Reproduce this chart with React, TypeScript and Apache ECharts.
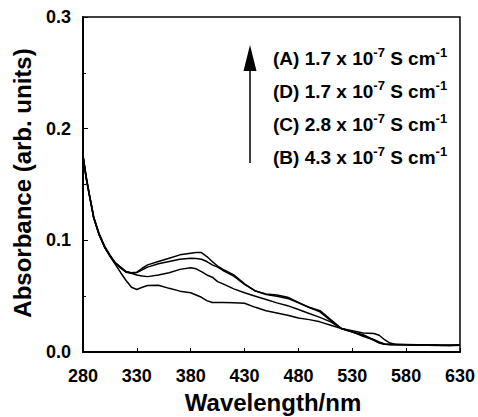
import React, { useEffect, useRef } from "react";
import * as echarts from "echarts";

const FONT = "'Liberation Sans', Arial, Helvetica, sans-serif";

const wavelengths = [
  280, 283, 286, 290, 295, 300, 305, 310, 315, 320, 325, 330, 335, 340, 350, 360, 370, 380, 385, 390, 395,
  400, 405, 410, 420, 430, 440, 450, 460, 470, 480, 490, 500, 510, 520, 530, 540, 550, 555, 560, 565, 570,
  580, 590, 600, 610, 620, 630,
];

const seriesA = [
  0.176, 0.157, 0.141, 0.121, 0.106, 0.095, 0.087, 0.08, 0.076, 0.072, 0.071, 0.0715, 0.075, 0.078, 0.081,
  0.084, 0.087, 0.0885, 0.089, 0.089, 0.0855, 0.081, 0.077, 0.074, 0.069, 0.061, 0.0545, 0.052, 0.051, 0.049,
  0.0445, 0.04, 0.037, 0.029, 0.021, 0.018, 0.0155, 0.011, 0.0085, 0.007, 0.0068, 0.0068, 0.0066, 0.0064,
  0.0062, 0.006, 0.006, 0.006,
];

const seriesD = [
  0.175, 0.156, 0.14, 0.12, 0.105, 0.094, 0.086, 0.0795, 0.0755, 0.0718, 0.0705, 0.0712, 0.0735, 0.076, 0.079,
  0.081, 0.083, 0.084, 0.0838, 0.083, 0.081, 0.078, 0.076, 0.073, 0.068, 0.0605, 0.0548, 0.0515, 0.05, 0.048,
  0.044, 0.0398, 0.036, 0.028, 0.0208, 0.0178, 0.015, 0.0105, 0.008, 0.0069, 0.0067, 0.0066, 0.0065, 0.0063,
  0.0061, 0.006, 0.0059, 0.006,
];

const seriesC = [
  0.175, 0.155, 0.14, 0.12, 0.105, 0.094, 0.086, 0.079, 0.075, 0.0715, 0.0705, 0.069, 0.068, 0.0675, 0.069,
  0.071, 0.074, 0.0755, 0.0745, 0.072, 0.069, 0.067, 0.063, 0.061, 0.0565, 0.053, 0.05, 0.047, 0.044, 0.0415,
  0.038, 0.0345, 0.031, 0.027, 0.021, 0.018, 0.014, 0.011, 0.009, 0.0072, 0.0068, 0.0067, 0.0065, 0.0062,
  0.006, 0.0059, 0.0058, 0.006,
];

const seriesB = [
  0.176, 0.156, 0.14, 0.12, 0.105, 0.094, 0.086, 0.0785, 0.071, 0.064, 0.058, 0.056, 0.058, 0.0595, 0.0598,
  0.057, 0.0545, 0.053, 0.051, 0.049, 0.046, 0.0443, 0.0443, 0.0443, 0.0442, 0.0437, 0.04, 0.037, 0.035, 0.033,
  0.0305, 0.029, 0.027, 0.024, 0.021, 0.019, 0.017, 0.0165, 0.015, 0.011, 0.008, 0.007, 0.0068, 0.0066, 0.0064,
  0.0062, 0.0061, 0.0062,
];

const legendTags = ["(A)", "(D)", "(C)", "(B)"];
const legendValues = ["1.7", "1.7", "2.8", "4.3"];
const legendExponent = "-7";
const legendUnitExponent = "-1";

const xTitle = "Wavelength/nm";
const yTitle = "Absorbance (arb. units)";

export default function App() {
  const ref = useRef<HTMLDivElement>(null);

  useEffect(() => {
    if (!ref.current) return;
    const chart = echarts.init(ref.current, null, { renderer: "svg" });

    const mk = (vals: number[]) => wavelengths.map((w, i) => [w, vals[i]]);
    const allSeries = [seriesA, seriesD, seriesC, seriesB].map((vals, i) => ({
      type: "line",
      name: legendTags[i],
      data: mk(vals),
      showSymbol: false,
      symbol: "none",
      lineStyle: { color: "#000", width: 1.5 },
      z: 3,
    }));

    const legendY = [57, 90, 123, 156];
    const legendText = legendTags.map((tag, i) => ({
      type: "text",
      x: 273,
      y: legendY[i],
      style: {
        text: `{n|${tag} ${legendValues[i]} x 10}{s|${legendExponent}}{n| S cm}{s|${legendUnitExponent}}`,
        rich: {
          n: { fontSize: 19, fontWeight: "bold", fontFamily: FONT, fill: "#000", lineHeight: 22, verticalAlign: "bottom" },
          s: { fontSize: 13, fontWeight: "bold", fontFamily: FONT, fill: "#000", lineHeight: 12, verticalAlign: "top" },
        },
        verticalAlign: "middle",
        align: "left",
      },
    }));

    chart.setOption({
      animation: false,
      backgroundColor: "#fff",
      grid: {
        left: 83,
        right: 14,
        top: 17,
        bottom: 65,
        show: true,
        borderColor: "#000",
        borderWidth: 1.5,
        backgroundColor: "transparent",
      },
      xAxis: {
        type: "value",
        min: 280,
        max: 630,
        interval: 50,
        axisLine: { show: true, lineStyle: { color: "#000", width: 2 } },
        axisTick: { show: true, inside: true, length: 4, lineStyle: { color: "#000", width: 1 } },
        splitLine: { show: false },
        axisLabel: {
          color: "#000",
          fontSize: 18,
          fontWeight: "bold",
          fontFamily: FONT,
          margin: 15,
          showMaxLabel: true,
          showMinLabel: true,
        },
      },
      yAxis: {
        type: "value",
        min: 0,
        max: 0.3,
        interval: 0.1,
        axisLine: { show: true, lineStyle: { color: "#000", width: 2 } },
        axisTick: { show: true, inside: true, length: 5, lineStyle: { color: "#000", width: 1 } },
        minorTick: { show: true, splitNumber: 2, length: 3, lineStyle: { color: "#000", width: 1 } },
        splitLine: { show: false },
        axisLabel: {
          color: "#000",
          fontSize: 18,
          fontWeight: "bold",
          fontFamily: FONT,
          margin: 12,
          formatter: (v: number) => v.toFixed(1),
        },
      },
      series: allSeries,
      graphic: [
        {
          type: "text",
          x: 273,
          y: 402,
          style: {
            text: xTitle,
            fontSize: 24,
            fontWeight: "bold",
            fontFamily: FONT,
            fill: "#000",
            align: "center",
            verticalAlign: "middle",
          },
        },
        {
          type: "text",
          x: 22,
          y: 183,
          rotation: Math.PI / 2,
          style: {
            text: yTitle,
            fontSize: 24,
            fontWeight: "bold",
            fontFamily: FONT,
            fill: "#000",
            align: "center",
            verticalAlign: "middle",
          },
        },
        {
          type: "line",
          shape: { x1: 250, y1: 68, x2: 250, y2: 163 },
          style: { stroke: "#000", lineWidth: 1.5 },
        },
        {
          type: "polygon",
          shape: { points: [[250, 45], [243.5, 71], [256.5, 71]] },
          style: { fill: "#000" },
        },
        ...legendText,
      ],
    });

    return () => chart.dispose();
  }, []);

  return (
    <div
      ref={ref}
      style={{ position: "fixed", left: 0, top: 0, width: 478, height: 417, overflow: "hidden" }}
    />
  );
}
